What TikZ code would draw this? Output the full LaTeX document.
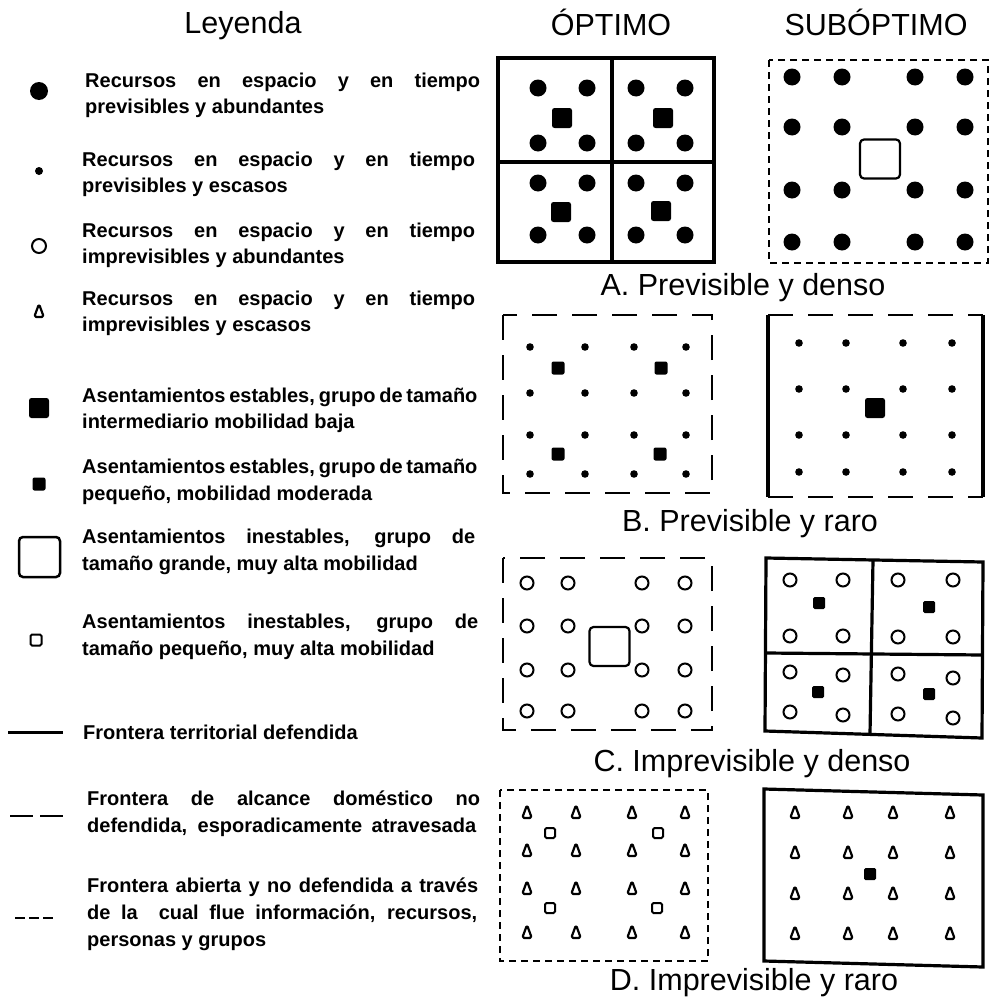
\documentclass[tikz,border=0pt]{standalone}
\usepackage{fontspec}
\setmainfont{Liberation Sans}
\newcommand\jline[2]{\hbox to #1pt{#2}}
\tikzset{
  leg/.style={font=\bfseries\fontsize{20}{24}\selectfont, inner sep=0pt, anchor=base west},
  ttl/.style={font=\fontsize{30.5}{36}\selectfont, inner sep=0pt, anchor=base},
  frame/.style={line width=3.2pt},
  longdash/.style={line width=2.6pt, dash pattern=on 25pt off 15pt},
  shortdash/.style={line width=2pt, dash pattern=on 7pt off 5pt},
  pics/bigsq/.style={code={\fill[rounded corners=2.5pt] (-10,-10) rectangle (10,10);}},
  pics/medsq/.style={code={\fill[rounded corners=2pt] (-6.5,-6.5) rectangle (6.5,6.5);}},
  pics/smsq/.style={code={\fill[rounded corners=1.5pt] (-6,-6) rectangle (6,6);}},
  pics/bigopen/.style={code={\draw[line width=2.2pt, rounded corners=4pt] (-20,-19.5) rectangle (20,19.5);}},
  pics/smopen/.style={code={\draw[line width=2pt, rounded corners=1.5pt] (-5,-5) rectangle (5,5);}},
  pics/tri/.style={code={\draw[line width=2.2pt, rounded corners=1.8pt, line join=round] (0,-7) -- (4.8,6) -- (-4.8,6) -- cycle;}},
}
\begin{document}
\begin{tikzpicture}[x=1pt,y=-1pt]
\useasboundingbox (0,0) rectangle (992,1001);
\fill[white] (0,0) rectangle (992,1001);

% ---------- headings ----------
\node[ttl] (leyenda) at (243,33) {Leyenda};
\node[ttl] (optimo) at (611,35) {ÓPTIMO};
\node[ttl] (suboptimo) at (876,35) {SUBÓPTIMO};

% ---------- legend texts ----------
\node[leg] (l1a) at (85,87)  {\jline{395}{Recursos en espacio y en tiempo}};
\node[leg] (l1b) at (85,113) {previsibles y abundantes};
\node[leg] (l2a) at (82,166) {\jline{393}{Recursos en espacio y en tiempo}};
\node[leg] (l2b) at (82,192) {previsibles y escasos};
\node[leg] (l3a) at (82,237) {\jline{393}{Recursos en espacio y en tiempo}};
\node[leg] (l3b) at (82,263) {imprevisibles y abundantes};
\node[leg] (l4a) at (82,305) {\jline{393}{Recursos en espacio y en tiempo}};
\node[leg] (l4b) at (82,331) {imprevisibles y escasos};
\node[leg] (l5a) at (82,402) {\jline{393}{Asentamientos estables, grupo de tamaño}};
\node[leg] (l5b) at (82,428) {intermediario mobilidad baja};
\node[leg] (l6a) at (82,473) {\jline{393}{Asentamientos estables, grupo de tamaño}};
\node[leg] (l6b) at (82,500) {pequeño, mobilidad moderada};
\node[leg] (l7a) at (82,543) {\jline{393}{Asentamientos inestables, grupo de}};
\node[leg] (l7b) at (82,570) {tamaño grande, muy alta mobilidad};
\node[leg] (l8a) at (82,628) {\jline{396}{Asentamientos inestables, grupo de}};
\node[leg] (l8b) at (82,655) {tamaño pequeño, muy alta mobilidad};
\node[leg] (l9)  at (83,739) {Frontera territorial defendida};
\node[leg] (l10a) at (87,805) {\jline{393}{Frontera de alcance doméstico no}};
\node[leg] (l10b) at (87,832) {\jline{389}{defendida, esporadicamente atravesada}};
\node[leg] (l11a) at (87,892) {\jline{391}{Frontera abierta y no defendida a través}};
\node[leg] (l11b) at (87,919) {\jline{390}{de la\ \ cual flue información, recursos,}};
\node[leg] (l11c) at (87,946) {personas y grupos};

% ---------- legend symbols ----------
\fill (39,91) circle[radius=9];
\fill (39,171) circle[radius=4];
\draw[line width=2pt] (39,246) circle[radius=7];
\pic at (39,311) {tri};
\pic at (39,408) {bigsq};
\pic at (39,484) {medsq};
\draw[line width=2.5pt, rounded corners=4pt] (19,537) rectangle (60,577);
\draw[line width=2pt, rounded corners=1.5pt] (30.5,634.5) rectangle (41.5,645.5);
\draw[line width=3pt] (8,732) -- (63,732);
\draw[line width=2.6pt, dash pattern=on 23pt off 7pt] (10,816) -- (63,816);
\draw[line width=2pt, dash pattern=on 10pt off 4pt] (15,918) -- (53,918);

% ---------- A optimo ----------
\draw[frame] (498,58) rectangle (714,262);
\draw[frame] (612,58) -- (612,262);
\draw[frame] (498,162) -- (714,162);
\foreach \x in {538,587,636,685}
  \foreach \y in {88,143,183,235}
    \fill (\x,\y) circle[radius=8.5];
\pic at (562,118) {bigsq};
\pic at (663,118) {bigsq};
\pic at (561,212) {bigsq};
\pic at (661,211) {bigsq};

% ---------- A suboptimo ----------
\draw[shortdash] (769,60) rectangle (988,263);
\foreach \x in {792,842,915,965}
  \foreach \y in {77,127,190,242}
    \fill (\x,\y) circle[radius=8.5];
\pic at (880,159) {bigopen};
\node[ttl] (tA) at (743,295) {A. Previsible y denso};

% ---------- B optimo ----------
\draw[longdash] (503,315) rectangle (712,493);
\foreach \x in {530,585,634,686}
  \foreach \y in {347,393,435,474}
    \fill (\x,\y) circle[radius=3.8];
\pic at (558,368) {medsq};
\pic at (661,368) {medsq};
\pic at (558,454) {medsq};
\pic at (660,454) {medsq};

% ---------- B suboptimo ----------
\draw[frame] (768,315) -- (768,497);
\draw[frame] (983,315) -- (983,497);
\draw[longdash] (768,315) -- (983,315);
\draw[longdash] (768,497) -- (983,497);
\foreach \x in {799,846,903,952}
  \foreach \y in {343,389,435,472}
    \fill (\x,\y) circle[radius=3.8];
\pic at (875,408) {bigsq};
\node[ttl] (tB) at (750,531) {B. Previsible y raro};

% ---------- C optimo ----------
\draw[longdash] (503,558) rectangle (712,730);
\foreach \x in {527,568,642,685}
  \foreach \y in {583,626,670,711}
    \draw[line width=2pt] (\x,\y) circle[radius=6.5];
\pic at (609.5,646.5) {bigopen};

% ---------- C suboptimo ----------
\draw[frame, line join=miter] (766,558) -- (983,562) -- (982,738) -- (765,731) -- cycle;
\draw[frame] (873,560) -- (870,734);
\draw[frame] (766,653) -- (983,655);
\foreach \p in {(790,580),(843,580),(790,636),(843,636),
                (898,580),(953,580),(898,637),(953,637),
                (790,672),(843,675),(790,712),(843,715),
                (898,674),(953,678),(898,714),(953,718)}
  \draw[line width=2pt] \p circle[radius=6.5];
\pic at (819,603) {smsq};
\pic at (929,607) {smsq};
\pic at (818,692) {smsq};
\pic at (929,694) {smsq};
\node[ttl] (tC) at (752,771) {C. Imprevisible y denso};

% ---------- D optimo ----------
\draw[shortdash] (500,790) rectangle (708,961);
\foreach \x in {527,576,632,685}
  \foreach \y in {812,850,888,932}
    \pic at (\x,\y) {tri};
\pic at (550,833) {smopen};
\pic at (658,833) {smopen};
\pic at (550,908) {smopen};
\pic at (657,908) {smopen};

% ---------- D suboptimo ----------
\draw[frame, line join=miter] (764,789) -- (983,795) -- (983,967) -- (764,961) -- cycle;
\foreach \x in {795,848,893,950}
  \foreach \y in {812,852,893,933}
    \pic at (\x,\y) {tri};
\pic at (870,874) {smsq};
\node[ttl] (tD) at (754,990) {D. Imprevisible y raro};
\end{tikzpicture}
\end{document}
